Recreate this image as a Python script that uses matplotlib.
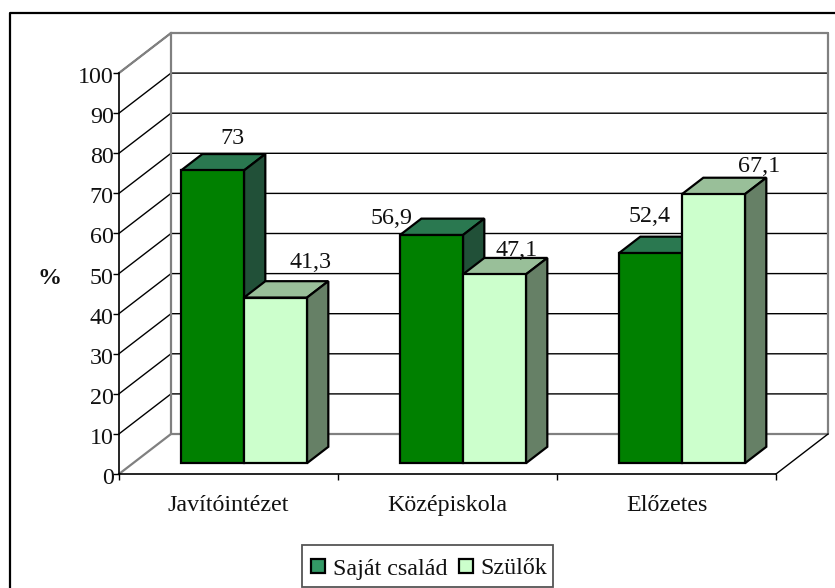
import matplotlib
matplotlib.use("Agg")
import matplotlib.pyplot as plt
from matplotlib.patches import Polygon, Rectangle
from matplotlib.transforms import ScaledTranslation

plt.rcParams["font.family"] = ["Liberation Serif", "DejaVu Serif"]

categories = ["Javítóintézet", "Középiskola", "Előzetes"]
family = [73, 56.9, 52.4]
parents = [41.3, 47.1, 67.1]
family_labels = ["73", "56,9", "52,4"]
parents_labels = ["41,3", "47,1", "67,1"]
legend_names = ["Saját család", "Szülők"]
yticks = list(range(0, 101, 10))

W, H = 835, 588
FS = 17.3
fig = plt.figure(figsize=(W / 100, H / 100), dpi=100)
fig.patch.set_facecolor("white")

# front plane of the fake 3d box
ax = fig.add_axes([119 / W, 1 - 474 / H, 657 / W, 401 / H])
ax.set_xlim(0, 3)
ax.set_ylim(0, 100)
ax.patch.set_visible(False)

# depth of the box in data units
DX = 52 / 219
DY = 40 / 4.01


def proj(x, y, d):
    return (x + d * DX, y + d * DY)


def poly(pts, fc, lw=1.6, ec="black", z=3):
    ax.add_patch(Polygon(pts, closed=True, fc=fc, ec=ec, lw=lw, zorder=z, clip_on=False, joinstyle="miter"))


# walls
for v in yticks[1:]:
    ax.plot(*zip(proj(0, v, 0), proj(0, v, 1), proj(3, v, 1)), color="black", lw=1.0, zorder=1, clip_on=False)
gray = "#808080"
ax.plot(*zip(proj(0, 100, 0), proj(0, 100, 1), proj(3, 100, 1), proj(3, 0, 1), proj(0, 0, 1), proj(0, 100, 1)),
        color=gray, lw=1.6, zorder=1.5, clip_on=False)
ax.plot(*zip(proj(0, 0, 0), proj(0, 0, 1)), color=gray, lw=1.6, zorder=1.5, clip_on=False)
ax.plot(*zip(proj(3, 0, 0), proj(3, 0, 1)), color="black", lw=1.0, zorder=1.5, clip_on=False)

BAR_W = 63 / 219
D0, D1 = 0.27, 0.68


def bar3d(x, v, front, top, side, z):
    x2 = x + BAR_W
    poly([proj(x, v, D0), proj(x, v, D1), proj(x2, v, D1), proj(x2, v, D0)], top, z=z)
    poly([proj(x2, 0, D0), proj(x2, 0, D1), proj(x2, v, D1), proj(x2, v, D0)], side, z=z)
    poly([proj(x, 0, D0), proj(x2, 0, D0), proj(x2, v, D0), proj(x, v, D0)], front, z=z)


for i in range(3):
    x0 = i + 0.219
    bar3d(x0, family[i], "#008000", "#2A7850", "#215038", 3)
    bar3d(x0 + BAR_W, parents[i], "#CCFFCC", "#99BF99", "#668066", 4)

# axes
for s in ["top", "right"]:
    ax.spines[s].set_visible(False)
for s in ["left", "bottom"]:
    ax.spines[s].set_linewidth(1.2)
ax.set_yticks(yticks)
ax.set_xticks([0, 1, 2, 3])
ax.set_xticklabels([])
ax.set_xticks([0.5, 1.5, 2.5], minor=True)
ax.set_xticklabels(categories, minor=True)
ax.tick_params(axis="x", which="minor", length=0, labelsize=FS, pad=15, labelcolor="#111111")
ax.tick_params(axis="x", which="major", length=4.3, width=1.0)
ax.tick_params(axis="y", length=4.3, width=1.0, labelsize=FS, pad=-0.6, labelcolor="#111111")
# y labels sit a little under their ticks
shift = ScaledTranslation(0, -2 / 100, fig.dpi_scale_trans)
for lab in ax.get_yticklabels():
    lab.set_transform(lab.get_transform() + shift)

# outer frame, legend and hand placed labels, in pixel coords
pix = fig.add_axes([0, 0, 1, 1], zorder=10)
pix.set_xlim(0, W)
pix.set_ylim(H, 0)
pix.axis("off")
pix.plot([10, 10, 835], [H, 13, 13], color="black", lw=1.6)

label_xy = [(232, 139), (392, 219), (650, 217)]
label_xy2 = [(310, 263), (517, 251), (759, 167)]
for i in range(3):
    pix.text(*label_xy[i], family_labels[i], fontsize=FS, ha="center", va="center", color="#111111")
    pix.text(*label_xy2[i], parents_labels[i], fontsize=FS, ha="center", va="center", color="#111111")
pix.text(49, 279, "%", fontsize=FS, fontweight="bold", ha="center", va="center", color="#111111")

pix.add_patch(Rectangle((302, 545), 251, 42, fc="white", ec="#555555", lw=1.3))
pix.add_patch(Rectangle((311, 559), 14, 14, fc="#339966", ec="black", lw=1.6))
pix.text(333, 569, legend_names[0], fontsize=FS, va="center", color="#111111")
pix.add_patch(Rectangle((459, 559), 14, 14, fc="#CCFFCC", ec="black", lw=1.6))
pix.text(480, 569, legend_names[1], fontsize=FS, va="center", color="#111111")

fig.savefig("out.png", dpi=100)
